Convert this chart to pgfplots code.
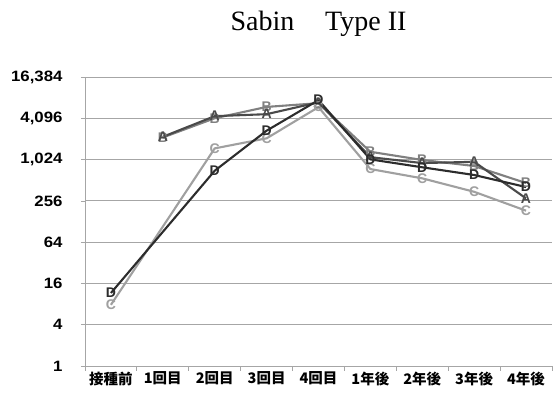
\documentclass[border=0pt]{standalone}
\usepackage{fontspec}
\setmainfont{Liberation Serif}
\newfontfamily\numfont[FakeStretch=1.12]{Liberation Sans}
\newfontfamily\markfont{Liberation Sans}
\newfontfamily\cjk{Noto Sans CJK JP}
\usepackage{pgfplots}
\usepackage{pgfplotstable}
\pgfplotsset{compat=1.18}
\usetikzlibrary{plotmarks}

\definecolor{serA}{HTML}{4A4A4A}
\definecolor{serB}{HTML}{808080}
\definecolor{serC}{HTML}{A0A0A0}
\definecolor{serD}{HTML}{2C2C2C}
\definecolor{gridc}{HTML}{A6A6A6}

% neutralising antibody titres, Sabin type II (categories at 0..8)
\pgfplotstableread{
x  y
1  2200
2  4400
3  4700
4  7000
5  1110
6  910
7  950
8  278
}\serieA
\pgfplotstableread{
x  y
1  2150
2  4100
3  6000
4  6800
5  1330
6  1010
7  825
8  465
}\serieB
\pgfplotstableread{
x  y
0  7.8
2  1490
3  2090
4  5950
5  745
6  545
7  347
8  184
}\serieC
\pgfplotstableread{
x  y
0  11.6
2  704
3  2700
4  7540
5  1030
6  790
7  610
8  407
}\serieD

\begin{document}
\begin{tikzpicture}
\begin{axis}[
  name=ax,
  scale only axis,
  width=467pt, height=289pt,
  xmin=-0.5, xmax=8.5,
  ymode=log, log basis y=2,
  ymin=1, ymax=16384,
  axis x line*=bottom, axis y line*=left,
  axis line style={gridc, line width=0.9pt},
  tick align=outside,
  xtick={0,...,8},
  xticklabels={接種前,1回目,2回目,3回目,4回目,1年後,2年後,3年後,4年後},
  major x tick style={draw=none},
  minor xtick={-0.5,0.5,...,8.5},
  minor tick length=5pt,
  minor x tick style={gridc, line width=0.9pt},
  ytick={1,4,16,64,256,1024,4096,16384},
  yticklabels={1,4,16,64,256,{1,024},{4,096},{16,384}},
  major tick length=4pt,
  major y tick style={gridc, line width=0.6pt},
  ymajorgrids,
  grid style={gridc, line width=0.9pt},
  yticklabel style={font=\numfont\bfseries\fontsize{15}{15}\selectfont, anchor=east, xshift=-15pt},
  xticklabel style={font=\cjk\bfseries\fontsize{14.5}{15}\selectfont, yshift=1.5pt},
  title={Sabin\hspace{1.1em}Type II},
  title style={font=\fontsize{28}{28}\selectfont, at={(0.5,1)}, anchor=base, yshift=40pt},
  clip=false,
  every axis plot/.append style={line width=2.1pt, mark=text, text mark as node=true,
    text mark style={font=\markfont\bfseries\fontsize{14}{14}\selectfont, inner sep=0pt}},
]
\addplot[serB, text mark={B}] table {\serieB};
\addplot[serA, text mark={A}] table {\serieA};
\addplot[serC, text mark={C}] table {\serieC};
\addplot[serD, text mark={D}] table {\serieD};
\end{axis}
\pgfresetboundingbox
\path[use as bounding box] ([shift={(-85pt,-37pt)}]ax.south west) rectangle ([shift={(469pt,366pt)}]ax.south west);
\end{tikzpicture}
\end{document}
